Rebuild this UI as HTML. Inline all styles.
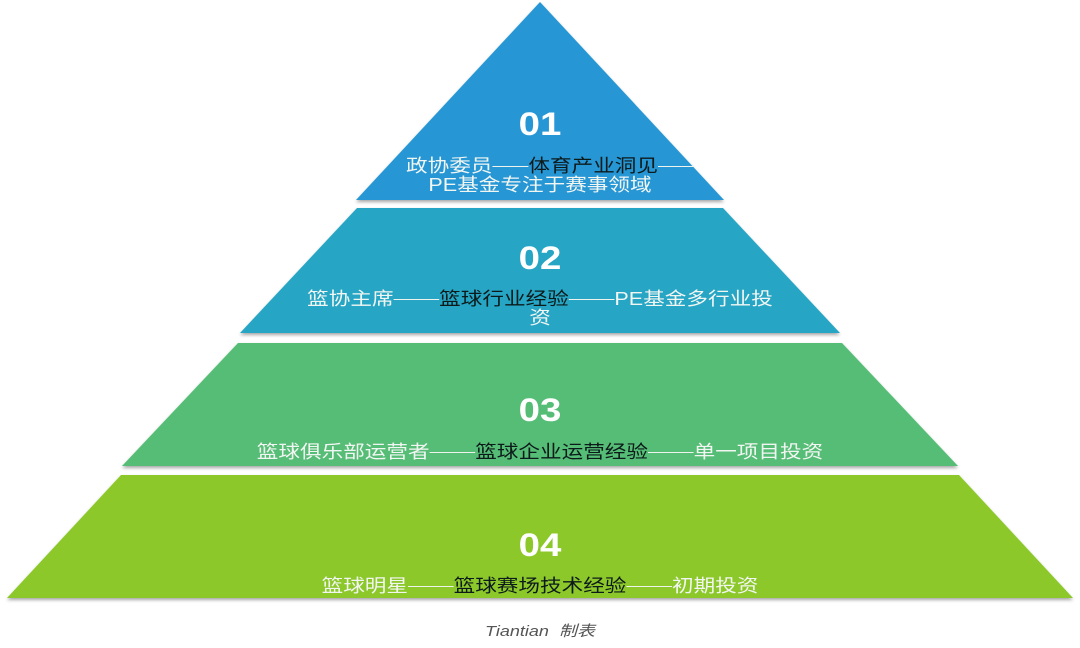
<!DOCTYPE html>
<html><head><meta charset="utf-8"><style>
body{margin:0;background:#fff;width:1080px;height:648px;overflow:hidden;position:relative;font-family:"Liberation Sans","Noto Sans CJK SC",sans-serif}
svg{position:absolute;left:0;top:0}
.t{position:absolute;left:0;width:1080px;text-align:center;white-space:nowrap;transform:scaleX(1.2);transform-origin:540px 0}
.n{font-weight:bold;font-size:32px;color:#fff;line-height:36px}
.s{font-size:18px;color:#f2f6f2;line-height:19px}
.d{color:#0c1a1a}
.m{display:inline-block;width:38px;height:0;border-top:1.2px solid #eef3ee;vertical-align:middle;margin-top:-2px}
</style></head><body>
<svg width="1080" height="648">
<defs><filter id="sh" x="-5%" y="-5%" width="110%" height="120%"><feDropShadow dx="0" dy="2" stdDeviation="1.5" flood-color="#000" flood-opacity="0.35"/></filter></defs>
<polygon points="540,2 724,200 356,200" fill="#2596d5" filter="url(#sh)"/>
<polygon points="357,208 723,208 840,333 240,333" fill="#28a5c4" filter="url(#sh)"/>
<polygon points="238,343 842,343 958,466 122,466" fill="#57bd76" filter="url(#sh)"/>
<polygon points="121,475 959,475 1073,598 7,598" fill="#8cc82a" filter="url(#sh)"/>
</svg>
<div class="t n" style="top:106px">01</div>
<div class="t s" style="top:157px;left:10px">政协委员<span class="m" style="width:30px"></span><span class="d">体育产业洞见</span><span class="m" style="width:30px"></span></div>
<div class="t s" style="top:176px">PE基金专注于赛事领域</div>
<div class="t n" style="top:240px">02</div>
<div class="t s" style="top:290px">篮协主席<span class="m"></span><span class="d">篮球行业经验</span><span class="m"></span>PE基金多行业投</div>
<div class="t s" style="top:309px">资</div>
<div class="t n" style="top:392px">03</div>
<div class="t s" style="top:443px">篮球俱乐部运营者<span class="m"></span><span class="d">篮球企业运营经验</span><span class="m"></span>单一项目投资</div>
<div class="t n" style="top:527px">04</div>
<div class="t s" style="top:577px">篮球明星<span class="m"></span><span class="d">篮球赛场技术经验</span><span class="m"></span>初期投资</div>
<div class="t" style="top:620px;font-size:15px;font-style:italic;color:#555">Tiantian&nbsp; 制表</div>
</body></html>
